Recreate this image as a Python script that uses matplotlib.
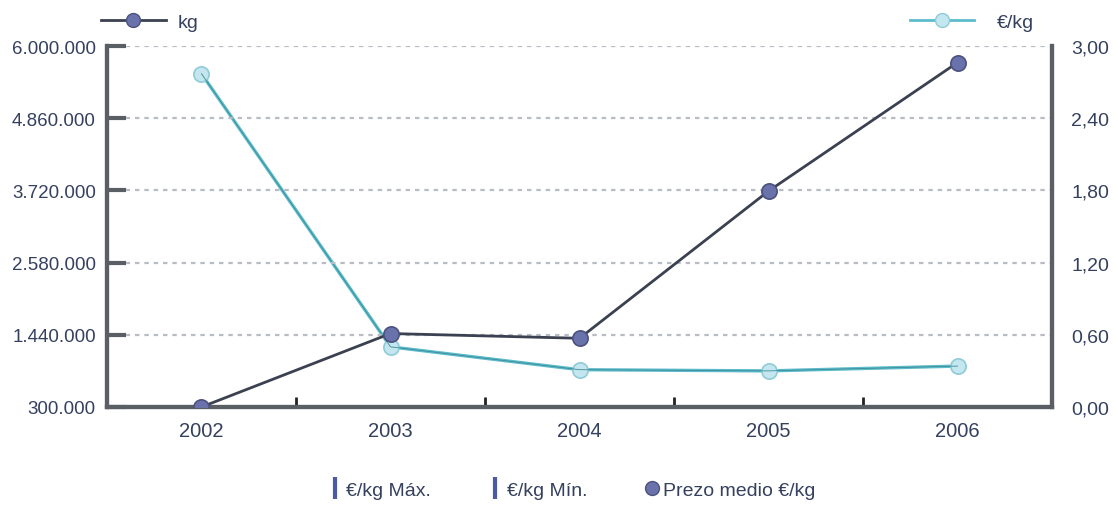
import numpy as np
import matplotlib
matplotlib.use("Agg")
import matplotlib.pyplot as plt
from matplotlib.lines import Line2D
import matplotlib.ticker as ticker

plt.rcParams['font.family'] = ['Liberation Sans', 'DejaVu Sans']

years = ['2002', '2003', '2004', '2005', '2006']
kg = [300000, 1460000, 1385000, 3710000, 5740000]
eur_kg = [2.77, 0.50, 0.31, 0.30, 0.34]

kg_ticks = [300000, 1440000, 2580000, 3720000, 4860000, 6000000]
kg_labels = ['300.000', '1.440.000', '2.580.000', '3.720.000', '4.860.000', '6.000.000']
eur_ticks = [0.0, 0.6, 1.2, 1.8, 2.4, 3.0]
eur_labels = ['0,00', '0,60', '1,20', '1,80', '2,40', '3,00']

text_col = '#34405e'
axis_col = '#5a5f66'
kg_line = '#3b4150'
kg_face = '#6a72ac'
eur_line = '#5cbccb'
eur_face = '#c4e6ee'

fig = plt.figure(figsize=(11.18, 5.06), dpi=100)
ax = fig.add_axes([0.0957, 0.1937, 0.8453, 0.7133])
ax2 = ax.twinx()

x = np.arange(len(years))

# grid lines
for t in kg_ticks[1:]:
    ax.axhline(t, color='#b8bcc4', lw=1.6, ls=(0, (2, 2.2)), zorder=1)

ax.plot(x, kg, color=kg_line, lw=2, zorder=4,
        marker='o', ms=11, mfc=kg_face, mec='#4c5280', mew=1.2)
ax2.plot(x, eur_kg, color=eur_line, lw=2.4, zorder=3,
         marker='o', ms=11, mfc=eur_face, mec='#8fcbd8', mew=1.2)
ax2.plot(x, eur_kg, color='#3d8a96', lw=0.6, zorder=3)

ax.set_xlim(-0.5, 4.5)
ax.set_ylim(300000, 6000000)
ax2.set_ylim(0, 3.0)

ax.set_yticks(kg_ticks)
ax.set_yticklabels(kg_labels)
ax2.set_yticks(eur_ticks)
ax2.set_yticklabels(eur_labels)
ax.set_xticks(x)
ax.set_xticklabels(years)
ax.xaxis.set_minor_locator(ticker.FixedLocator([0.5, 1.5, 2.5, 3.5]))

ax.tick_params(axis='y', direction='in', length=14, width=3, color=axis_col,
               labelsize=13.5, labelcolor=text_col, pad=8)
ax2.tick_params(axis='y', direction='in', length=0,
                labelsize=14, labelcolor=text_col, pad=14)
ax.tick_params(axis='x', which='major', length=0, labelsize=14.5,
               labelcolor=text_col, pad=10)
ax.tick_params(axis='x', which='minor', direction='in', length=7, width=2,
               color='#222222')

for a in (ax, ax2):
    a.spines['top'].set_visible(False)
    for s in ('left', 'right', 'bottom'):
        a.spines[s].set_color(axis_col)
        a.spines[s].set_linewidth(3)
ax.set_zorder(ax2.get_zorder() + 1)
ax.patch.set_visible(False)

# top legends
h_kg = Line2D([], [], color=kg_line, lw=2, marker='o', ms=10, mfc=kg_face, mec='#4c5280')
h_eur = Line2D([], [], color=eur_line, lw=2, marker='o', ms=10, mfc=eur_face, mec='#8fcbd8')
fig.legend([h_kg], ['kg'], loc='center left', bbox_to_anchor=(0.075, 0.955),
           frameon=False, fontsize=14, handlelength=3.3, labelcolor=text_col,
           handletextpad=0.6)
fig.legend([h_eur], ['€/kg'], loc='center left', bbox_to_anchor=(0.798, 0.955),
           frameon=False, fontsize=14, handlelength=3.3, labelcolor=text_col,
           handletextpad=1.2)

# bottom legend
h_max = Line2D([], [], color='#4a5aa8', marker='|', ls='none', ms=16, mew=3)
h_min = Line2D([], [], color='#4a5aa8', marker='|', ls='none', ms=16, mew=3)
h_med = Line2D([], [], color=kg_face, marker='o', ls='none', ms=10, mec='#4c5280')
fig.legend([h_max, h_min, h_med], ['€/kg Máx.', '€/kg Mín.', 'Prezo medio €/kg'],
           loc='center', bbox_to_anchor=(0.512, 0.03), ncol=3, frameon=False,
           fontsize=14, handlelength=0.6, handletextpad=0.3, columnspacing=3.0,
           labelcolor=text_col)

fig.savefig('out.png', dpi=100)
